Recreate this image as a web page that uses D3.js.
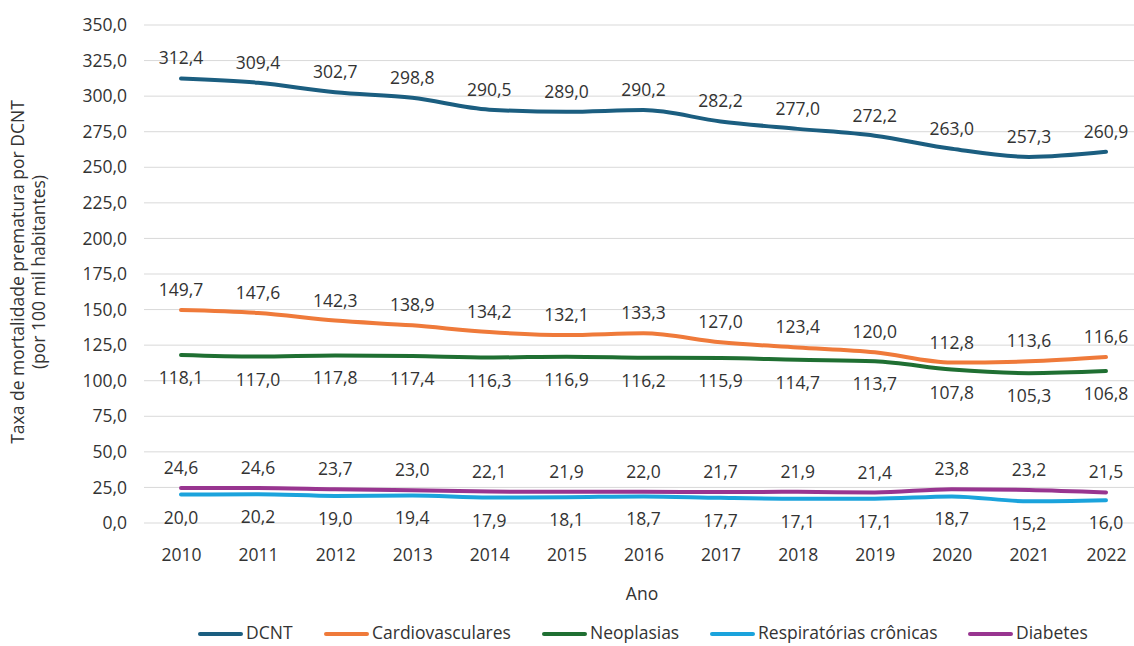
<!DOCTYPE html>
<html>
<head>
<meta charset="utf-8">
<script src="https://cdn.jsdelivr.net/npm/d3@7"></script>
<style>
  body { margin: 0; background: #fff; }
  svg { font-family: "Open Sans", "Lato", sans-serif; }
</style>
</head>
<body>
<div id="chart"></div>
<script>
// data
var years = ["2010", "2011", "2012", "2013", "2014", "2015", "2016", "2017", "2018", "2019", "2020", "2021", "2022"];
var dcnt = [312.4, 309.4, 302.7, 298.8, 290.5, 289.0, 290.2, 282.2, 277.0, 272.2, 263.0, 257.3, 260.9];
var cardio = [149.7, 147.6, 142.3, 138.9, 134.2, 132.1, 133.3, 127.0, 123.4, 120.0, 112.8, 113.6, 116.6];
var neo = [118.1, 117.0, 117.8, 117.4, 116.3, 116.9, 116.2, 115.9, 114.7, 113.7, 107.8, 105.3, 106.8];
var resp = [20.0, 20.2, 19.0, 19.4, 17.9, 18.1, 18.7, 17.7, 17.1, 17.1, 18.7, 15.2, 16.0];
var diab = [24.6, 24.6, 23.7, 23.0, 22.1, 21.9, 22.0, 21.7, 21.9, 21.4, 23.8, 23.2, 21.5];
var yTicks = [0, 25, 50, 75, 100, 125, 150, 175, 200, 225, 250, 275, 300, 325, 350];

var series = [
    { name: "DCNT", values: dcnt, color: "#1b5e80", labelPos: "above" },
    { name: "Cardiovasculares", values: cardio, color: "#ef7a3a", labelPos: "above" },
    { name: "Neoplasias", values: neo, color: "#1f6f32", labelPos: "below" },
    { name: "Respiratórias crônicas", values: resp, color: "#1ba3dc", labelPos: "below" },
    { name: "Diabetes", values: diab, color: "#983590", labelPos: "above" }
];

var svgWidth = 1134;
var svgHeight = 646;
var fontSize = 17.5;
var textColor = "#333";

var svg = d3.select("#chart").append("svg")
    .attr("width", svgWidth)
    .attr("height", svgHeight);

var fmt = function(v) { return d3.format(".1f")(v).replace(".", ","); };

var xScale = d3.scalePoint()
    .domain(years)
    .range([181, 1106]);

var yScale = d3.scaleLinear()
    .domain([0, 350])
    .range([523, 25]);

// gridlines
svg.append("g").selectAll("line")
    .data(yTicks)
    .enter()
    .append("line")
    .attr("x1", 144)
    .attr("x2", 1134)
    .attr("y1", d => yScale(d))
    .attr("y2", d => yScale(d))
    .attr("stroke", "#d9d9d9")
    .attr("stroke-width", 1);

// y axis
var leftAxis = d3.axisLeft(yScale)
    .tickValues(yTicks)
    .tickSize(0)
    .tickPadding(0)
    .tickFormat(fmt);

var yAxis = svg.append("g")
    .attr("transform", "translate(127, 0)")
    .call(leftAxis);
yAxis.select(".domain").remove();
yAxis.selectAll("text")
    .attr("font-size", fontSize)
    .attr("fill", textColor)
    .attr("font-family", "Open Sans");

// x axis
var bottomAxis = d3.axisBottom(xScale)
    .tickSize(0)
    .tickPadding(0);

var xAxis = svg.append("g")
    .attr("transform", "translate(0, 549)")
    .call(bottomAxis);
xAxis.select(".domain").remove();
xAxis.selectAll("text")
    .attr("font-size", fontSize)
    .attr("fill", textColor)
    .attr("font-family", "Open Sans");

// axis titles
svg.append("text")
    .attr("x", 642)
    .attr("y", 600)
    .attr("text-anchor", "middle")
    .attr("font-size", fontSize)
    .attr("fill", textColor)
    .text("Ano");

var yTitle = svg.append("g")
    .attr("transform", "translate(24, 272) rotate(-90)");
yTitle.append("text")
    .attr("x", 0)
    .attr("y", 0)
    .attr("text-anchor", "middle")
    .attr("font-size", fontSize)
    .attr("fill", textColor)
    .text("Taxa de mortalidade prematura por DCNT");
yTitle.append("text")
    .attr("x", 0)
    .attr("y", 21)
    .attr("text-anchor", "middle")
    .attr("font-size", fontSize)
    .attr("fill", textColor)
    .text("(por 100 mil habitantes)");

// lines
var line = d3.line()
    .x((d, i) => xScale(years[i]))
    .y(d => yScale(d))
    .curve(d3.curveMonotoneX);

svg.append("g").selectAll("path")
    .data(series)
    .enter()
    .append("path")
    .attr("d", d => line(d.values))
    .attr("fill", "none")
    .attr("stroke", d => d.color)
    .attr("stroke-width", 4)
    .attr("stroke-linecap", "round");

// data labels
series.forEach(function(s) {
    svg.append("g").selectAll("text")
        .data(s.values)
        .enter()
        .append("text")
        .attr("x", (d, i) => xScale(years[i]))
        .attr("y", d => s.labelPos === "above" ? yScale(d) - 14 : yScale(d) + 29)
        .attr("text-anchor", "middle")
        .attr("font-size", fontSize)
        .attr("fill", textColor)
        .text(d => fmt(d));
});

// legend
var legendX = [200, 326, 544, 712, 970];
var legend = svg.append("g").selectAll("g")
    .data(series)
    .enter()
    .append("g")
    .attr("transform", (d, i) => `translate(${legendX[i]}, 634)`);

legend.append("line")
    .attr("x1", 0)
    .attr("x2", 41)
    .attr("y1", 0)
    .attr("y2", 0)
    .attr("stroke", d => d.color)
    .attr("stroke-width", 4)
    .attr("stroke-linecap", "round");

legend.append("text")
    .attr("x", 46)
    .attr("y", 0)
    .attr("dy", "0.3em")
    .attr("font-size", fontSize)
    .attr("fill", textColor)
    .text(d => d.name);
</script>
</body>
</html>
